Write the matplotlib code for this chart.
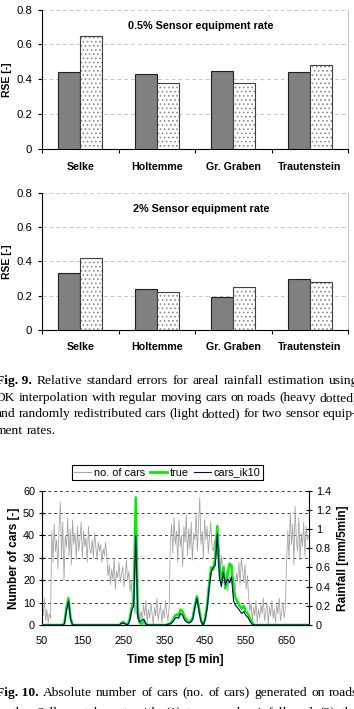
import numpy as np
import matplotlib
matplotlib.use("Agg")
import matplotlib.pyplot as plt
from matplotlib.lines import Line2D

plt.rcParams['font.family'] = ['Liberation Sans', 'DejaVu Sans']
plt.rcParams['hatch.linewidth'] = 0.7

# Fig. 9 data: relative standard errors
catchments = ["Selke", "Holtemme", "Gr. Graben", "Trautenstein"]
rse_05_roads = [0.44, 0.43, 0.45, 0.44]
rse_05_random = [0.65, 0.38, 0.38, 0.48]
rse_2_roads = [0.33, 0.24, 0.19, 0.30]
rse_2_random = [0.42, 0.22, 0.25, 0.28]
rse_ticks = [0, 0.2, 0.4, 0.6, 0.8]
rse_ticklabels = ["0", "0.2", "0.4", "0.6", "0.8"]

# Fig. 10 data: number of cars (every 3rd time step from 50)
car_t = np.arange(50, 705, 3)
n_cars = [10, 4, 12, 2, 7, 1, 5, 3,
          42, 28, 45, 33, 38, 25, 44, 55, 30, 46, 20, 40, 35, 48, 31, 43,
          27, 47, 36, 41, 29, 44, 33, 38, 46, 30, 42, 35, 39, 28, 44, 34,
          32, 38, 30, 41, 35, 29, 37, 33, 36, 28, 34, 31, 37, 30,
          22, 27, 18, 25, 20, 30, 16, 24, 21, 28, 19, 23, 26, 17, 22, 29, 20, 24,
          15, 20, 8, 14, 5, 10, 3, 8, 2,
          6, 2, 9, 4, 11, 1, 7, 3, 10, 5, 0, 8, 4, 12, 2, 6, 9, 1, 7, 3, 11, 5, 2, 8,
          38, 45, 32, 48, 36, 42, 28, 47, 35, 40, 26, 44, 37, 49, 31, 43, 34, 46,
          29, 41, 38, 50, 33, 45, 57, 36, 42, 30, 47, 38, 44, 32, 40, 46, 35,
          33, 38, 30, 36, 28, 34, 25, 31, 22, 27,
          18, 24, 15, 22, 19, 26, 17, 21, 14, 23, 20, 28, 18, 30, 24, 19, 27, 16, 22, 12,
          6, 10, 2, 8, 4, 11, 1, 7, 3, 9, 5, 12, 2, 6, 10, 0, 8, 4, 11, 3,
          7, 1, 9, 5, 12, 2, 6, 10, 3, 8,
          28, 42, 30, 50, 36, 45, 27, 53, 38, 33, 48, 29, 41, 35, 46, 31, 44, 38, 40]

# rainfall [mm/5min], every 5th time step from 50
rain_t = np.arange(50, 706, 5)
rain_true = ([0] * 11 +
             [0.02, 0.18, 0.28, 0.08, 0] +
             [0] * 23 +
             [0.02, 0.03, 0.01, 0.0,
              0.06, 0.18, 0.25, 1.33, 0.12, 0.02, 0.01, 0.04, 0.01, 0] +
             [0] * 9 +
             [0.01, 0.02, 0.04, 0.09, 0.11, 0.10, 0.16, 0.14, 0.08, 0.05, 0.03, 0.04,
              0.08, 0.20, 0.30, 0.18, 0.05, 0.0, 0.06, 0.20, 0.42, 0.60, 0.58, 0.70,
              1.03, 0.62, 0.45, 0.60, 0.38, 0.52, 0.64, 0.62, 0.35, 0.28, 0.24, 0.20,
              0.17, 0.20, 0.14, 0.12, 0.07, 0.03, 0.0] +
             [0] * 27)
rain_ik10 = ([0] * 11 +
             [0.01, 0.15, 0.25, 0.06, 0] +
             [0] * 23 +
             [0.02, 0.02, 0.01, 0.0,
              0.04, 0.15, 0.20, 0.93, 0.08, 0.03, 0.05, 0.06, 0.01, 0] +
             [0] * 9 +
             [0.01, 0.01, 0.03, 0.06, 0.08, 0.07, 0.12, 0.10, 0.05, 0.03, 0.02, 0.03,
              0.06, 0.18, 0.28, 0.15, 0.04, 0.0, 0.05, 0.17, 0.38, 0.55, 0.60, 0.62,
              0.95, 0.50, 0.40, 0.55, 0.42, 0.48, 0.44, 0.50, 0.25, 0.20, 0.18, 0.15,
              0.12, 0.14, 0.10, 0.08, 0.04, 0.01, 0.0] +
             [0] * 27)
car_ticks = [0, 10, 20, 30, 40, 50, 60]
rain_ticks = [0, 0.2, 0.4, 0.6, 0.8, 1.0, 1.2, 1.4]
rain_ticklabels = ["0", "0.2", "0.4", "0.6", "0.8", "1", "1.2", "1.4"]
step_ticks = [50, 150, 250, 350, 450, 550, 650]

fig9_lines = ["Relative standard errors for areal rainfall estimation using",
              "OK interpolation with regular moving cars on roads (heavy dotted)",
              "and randomly redistributed cars (light dotted) for two sensor equip-",
              "ment rates."]
fig10_lines = ["Absolute number of cars (no. of cars) generated on roads",
               "in the Selke catchment with (1) true areal rainfall and (2) the"]

W, H = 354, 709
fig = plt.figure(figsize=(W / 100, H / 100), dpi=100)


def px_axes(left, top, right, bottom):
    return fig.add_axes([left / W, 1 - bottom / H, (right - left) / W, (bottom - top) / H])


def bar_panel(ax, heavy, light, title):
    x = np.arange(len(catchments))
    w = 0.29
    ax.bar(x - w / 2, heavy, w, color='#808080', edgecolor='#202020', lw=0.8, zorder=3)
    ax.bar(x + w / 2, light, w, color='white', edgecolor='#8c8c8c', hatch='....', lw=0, zorder=3)
    ax.bar(x + w / 2, light, w, fill=False, edgecolor='#404040', lw=0.8, zorder=4)
    ax.set_xlim(-0.5, 3.5)
    ax.set_ylim(0, 0.8)
    ax.set_yticks(rse_ticks)
    ax.set_yticklabels(rse_ticklabels, fontsize=8.2)
    ax.set_xticks(np.arange(-0.5, 4, 1))
    ax.set_xticklabels([])
    ax.set_xticks(x, minor=True)
    ax.set_xticklabels(catchments, minor=True, fontsize=7.7, fontweight='bold')
    ax.tick_params(axis='x', which='major', length=3, width=0.8, direction='out')
    ax.tick_params(axis='x', which='minor', length=0, pad=9)
    ax.tick_params(axis='y', length=3, width=0.8, pad=4)
    for v in rse_ticks[1:]:
        ax.axhline(v, color='#c8c8c8', lw=0.7, ls=(0, (4, 3)), zorder=1)
    ax.spines['top'].set_visible(False)
    ax.spines['right'].set_color('#c0c0c0')
    ax.spines['right'].set_linewidth(0.7)
    ax.spines['left'].set_linewidth(0.8)
    ax.spines['bottom'].set_linewidth(0.8)
    ax.set_ylabel("RSE [-]", fontsize=7.5, fontweight='bold', labelpad=3)
    ax.text(0.52, 0.88, title, transform=ax.transAxes, ha='center', va='center',
            fontsize=7.8, fontweight='bold')


ax1 = px_axes(42, 9.5, 348, 149)
bar_panel(ax1, rse_05_roads, rse_05_random, "0.5% Sensor equipment rate")
ax2 = px_axes(42, 193, 348, 330)
bar_panel(ax2, rse_2_roads, rse_2_random, "2% Sensor equipment rate")

# line chart with two y axes
ax3 = px_axes(42, 490.7, 309, 625)
ax3.plot(car_t, n_cars, color='#a6a6a6', lw=0.6, zorder=2)
ax3.set_xlim(50, 705)
ax3.set_ylim(0, 60)
ax3.set_yticks(car_ticks)
ax3.set_yticklabels([str(v) for v in car_ticks], fontsize=7.8)
ax3.set_xticks(step_ticks)
ax3.set_xticklabels([str(v) for v in step_ticks], fontsize=7.8)
ax3.tick_params(axis='x', length=0, pad=8)
ax3.tick_params(axis='y', length=4, width=0.8, direction='inout', pad=3)
for v in car_ticks[1:]:
    ax3.axhline(v, color='#404040', lw=0.7, ls=(0, (3, 3)), zorder=1)
ax3.spines['top'].set_visible(False)
ax3.spines['right'].set_visible(False)
ax3.set_ylabel("Number of cars [-]", fontsize=8.5, fontweight='bold', labelpad=2)
ax3.set_xlabel("Time step [5 min]", fontsize=8.5, fontweight='bold', labelpad=6)

ax4 = ax3.twinx()
ax4.plot(rain_t, rain_true, color='#00ee00', lw=1.8, zorder=3)
ax4.plot(rain_t, rain_ik10, color='#000080', lw=0.8, zorder=4)
ax4.set_ylim(0, 1.4)
ax4.set_yticks(rain_ticks)
ax4.set_yticklabels(rain_ticklabels, fontsize=7.8)
ax4.tick_params(axis='y', length=4, width=0.8, direction='inout', pad=3)
ax4.spines['top'].set_visible(False)
ax4.spines['left'].set_visible(False)
ax4.spines['right'].set_linewidth(0.8)
ax4.set_ylabel("Rainfall [mm/5min]", fontsize=8.5, fontweight='bold', labelpad=4)

handles = [Line2D([], [], color='#a6a6a6', lw=0.8),
           Line2D([], [], color='#00ee00', lw=2),
           Line2D([], [], color='#000080', lw=0.8)]
leg = fig.legend(handles, ["no. of cars", "true", "cars_ik10"], loc='center',
                 bbox_to_anchor=(167.5 / W, 1 - 472.5 / H), ncol=3, fontsize=7.8,
                 frameon=True, fancybox=False, edgecolor='black', framealpha=1,
                 handlelength=1.5, handletextpad=0.3, columnspacing=0.5,
                 borderpad=0.2, borderaxespad=0)
leg.get_frame().set_linewidth(0.8)

# captions (justified serif text)
renderer = fig.canvas.get_renderer()


def caption(y, text, head=None, x0=-4, x1=None, size=9.7):
    words = [(head, 'bold')] if head else []
    words += [(s, 'normal') for s in text.split()]
    items = [fig.text(0, 1 - y / H, txt, fontsize=size, fontweight=wt,
                      family=['Liberation Serif', 'DejaVu Serif'], va='baseline', ha='left')
             for txt, wt in words]
    widths = [t.get_window_extent(renderer).width for t in items]
    gap = size * 100 / 72 * 0.25 if x1 is None else (x1 - x0 - sum(widths)) / (len(items) - 1)
    x = x0
    for t, w in zip(items, widths):
        t.set_x(x / W)
        x += w + gap


caption(384, fig9_lines[0], head="Fig. 9.", x1=358)
caption(401, fig9_lines[1], x1=358)
caption(417, fig9_lines[2], x1=357)
caption(434, fig9_lines[3])
caption(696, fig10_lines[0], head="Fig. 10.", x1=358)
caption(716, fig10_lines[1], x1=358)

fig.savefig("out.png", dpi=100)
